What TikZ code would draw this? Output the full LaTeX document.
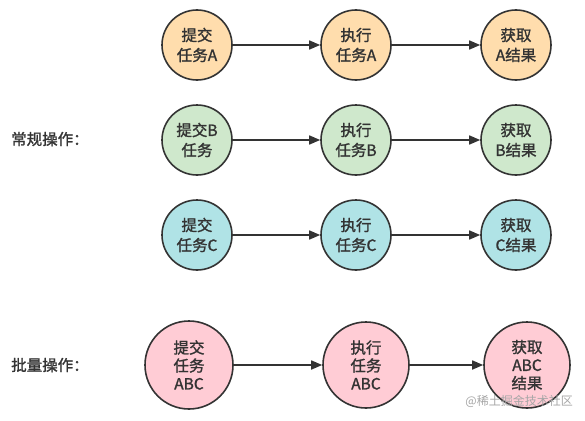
\documentclass[tikz,border=0pt]{standalone}
\usepackage{fontspec}
\setmainfont{Noto Sans CJK SC}[FakeBold=1.4]
\newfontfamily\wmfont{Noto Sans CJK SC}
\usetikzlibrary{arrows.meta}
\definecolor{lineC}{HTML}{333333}
\definecolor{orangeF}{HTML}{FFDDAD}
\definecolor{greenF}{HTML}{CFE8CC}
\definecolor{blueF}{HTML}{B0E3E6}
\definecolor{pinkF}{HTML}{FFCCD5}
\begin{document}
\begin{tikzpicture}[x=1pt,y=-1pt,
  task/.style={circle, draw=lineC, line width=1.6pt, minimum size=70pt, inner sep=0pt,
    align=center, text=lineC, font=\fontsize{15.5}{20}\selectfont},
  bigtask/.style={task, minimum size=88pt, font=\fontsize{15.5}{18}\selectfont},
  flow/.style={draw=lineC, line width=1.6pt, -{Triangle[length=11pt,width=9pt]}},
  lbl/.style={text=lineC, font=\fontsize{15.5}{17}\selectfont, anchor=west, inner sep=0pt}]
\useasboundingbox (0,0) rectangle (585,420);
\fill[white] (0,0) rectangle (585,420);
% row A
\node[task, fill=orangeF] (a1) at (197,45) {提交\\任务A};
\node[task, fill=orangeF] (a2) at (356,45) {执行\\任务A};
\node[task, fill=orangeF] (a3) at (516,45) {获取\\A结果};
% row B
\node[task, fill=greenF] (b1) at (197,140) {提交B\\任务};
\node[task, fill=greenF] (b2) at (356,140) {执行\\任务B};
\node[task, fill=greenF] (b3) at (516,140) {获取\\B结果};
% row C
\node[task, fill=blueF] (c1) at (197,235) {提交\\任务C};
\node[task, fill=blueF] (c2) at (356,235) {执行\\任务C};
\node[task, fill=blueF] (c3) at (516,235) {获取\\C结果};
% row ABC
\node[bigtask, fill=pinkF] (d1) at (189,365) {提交\\任务\\ABC};
\node[bigtask, fill=pinkF, minimum size=86pt] (d2) at (366,365) {执行\\任务\\ABC};
\node[bigtask, fill=pinkF, minimum size=86pt] (d3) at (527,365) {获取\\ABC\\结果};
\foreach \r in {a,b,c,d}{
  \draw[flow] (\r1) -- (\r2);
  \draw[flow] (\r2) -- (\r3);
}
\node[lbl] (l1) at (11,139) {常规操作：};
\node[lbl] (l2) at (11,365) {批量操作：};
\node[text=black!35, font=\wmfont\fontsize{12}{14}\selectfont, anchor=east, inner sep=0pt] (wm) at (573,401) {@稀土掘金技术社区};
\end{tikzpicture}
\end{document}
